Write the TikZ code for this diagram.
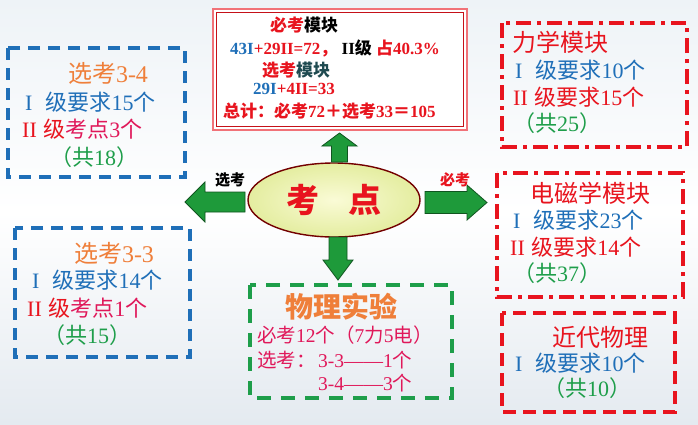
\documentclass[tikz,border=0pt]{standalone}
\usepackage{fontspec}
\setmainfont{Liberation Serif}
\newfontfamily\cjk{Noto Sans CJK SC}
\usetikzlibrary{shapes.geometric}
\definecolor{kblue}{HTML}{1F6FB8}
\definecolor{kred}{HTML}{E8141E}
\definecolor{kpink}{HTML}{E0185A}
\definecolor{kgreen}{HTML}{1E9E4A}
\definecolor{korange}{HTML}{EF7F3A}
\definecolor{kteal}{HTML}{1E4A50}
\definecolor{arrowgreen}{HTML}{1E9A3A}
\definecolor{bgtop}{HTML}{EEF3F7}
\definecolor{bgbot}{HTML}{E4EAF0}
\definecolor{ellin}{HTML}{FAFBD6}
\definecolor{ellout}{HTML}{E4EDA0}
\def\zh#1{{\cjk #1}}
\def\fs#1{\fontsize{#1}{#1}\selectfont}
% tail (#1), angle #2, length #3, shaft half #4, head half #5, head length #6
\def\bigarrow(#1)[#2](#3,#4,#5,#6){\draw[garrow,shift={(#1)},rotate=#2] (0,-#4) -- ({#3-#6},-#4) -- ({#3-#6},-#5) -- (#3,0) -- ({#3-#6},#5) -- ({#3-#6},#4) -- (0,#4) -- cycle;}

\begin{document}
\begin{tikzpicture}[x=1pt,y=-1pt,
	bluebox/.style={draw=kblue,line width=3.2pt,dash pattern=on 12pt off 8pt},
	redbox/.style={draw=kred,line width=3.4pt,dash pattern=on 15pt off 6pt on 4pt off 6pt},
	reddash/.style={draw=kred,line width=3.4pt,dash pattern=on 13pt off 7pt},
	greenbox/.style={draw=kgreen,line width=3.4pt,dash pattern=on 14pt off 10pt},
	txt/.style={anchor=west,inner sep=0pt,font=\fs{22}},
	ttl/.style={inner sep=0pt,font=\fs{24}},
	toptxt/.style={anchor=west,inner sep=0pt,font=\bfseries\fs{17}},
	syt/.style={anchor=west,inner sep=0pt,font=\fs{19.5},text=kpink},
	garrow/.style={draw=arrowgreen!55!black,fill=arrowgreen,line width=0.8pt,line join=miter},
	kellipse/.style={ellipse,draw=red!45!black,line width=1.4pt,inner color=ellin,outer color=ellout,minimum width=172pt,minimum height=74pt,inner sep=0pt},
	]
			%%%%% START %%%%%
			
			\useasboundingbox (0,0) rectangle (698,424);
			\shade[top color=bgtop,bottom color=bgbot,middle color=white] (0,0) rectangle (698,424);
			
			% centre
			\node[kellipse,text=kred,font=\bfseries\fs{33}] (kd) at (334,200) {\zh{考}\hspace{0.9em}\zh{点}};
			\coordinate (upTail) at (339.5,162);
			\coordinate (downTail) at (338,237);
			\coordinate (leftTail) at (245,202);
			\coordinate (rightTail) at (425,202.5);
			\bigarrow(upTail)[90](29,8,17.5,13)
			\bigarrow(downTail)[-90](43,9,15,20)
			\bigarrow(leftTail)[180](60,10,20,20)
			\bigarrow(rightTail)[0](62,11,17.5,20)
			\node[inner sep=0pt,font=\bfseries\fs{15}] (xkLbl) at (230,180) {\zh{选考}};
			\node[inner sep=0pt,font=\bfseries\fs{15},text=kred] (bkLbl) at (455,180) {\zh{必考}};
			
			% top box
			\draw[fill=white,draw=kred!60,line width=1.5pt] (213,9) rectangle (467,130);
			\draw[draw=kred!85!black,line width=1pt] (216.5,12.5) rectangle (463.5,126.5);
			\node[inner sep=0pt,font=\bfseries\fs{17}] (top1) at (304,25) {\textcolor{kred}{\zh{必考}}\zh{模块}};
			\node[toptxt] (top2) at (230,48) {\textcolor{kblue}{43I}\textcolor{kred}{+29II=72\zh{，}} II\zh{级} \textcolor{kred}{\zh{占}40.3\%}};
			\node[inner sep=0pt,font=\bfseries\fs{17}] (top3) at (296,70) {\textcolor{kred}{\zh{选考}}\textcolor{kteal}{\zh{模块}}};
			\node[toptxt] (top4) at (253,89) {\textcolor{kblue}{29I}\textcolor{kred}{+4II=33}};
			\node[toptxt,text=kred] (top5) at (223,111) {\zh{总计：必考}72\zh{＋选考}33\zh{＝}105};
			
			% left boxes
			\draw[bluebox] (8,48) rectangle (185,177);
			\node[ttl,text=korange] (x34) at (108,73) {\zh{选考}3-4};
			\node[txt,text=kblue] (x34a) at (25,102) {I\hspace{0.6em}\zh{级要求}15\zh{个}};
			\node[txt] (x34b) at (22,129) {\textcolor{kred}{II\hspace{0.3em}\zh{级}}\textcolor{kpink}{\zh{考点}3\zh{个}}};
			\node[txt,text=kgreen] (x34c) at (50,157) {\zh{（共}18\zh{）}};
			
			\draw[bluebox] (15,228) rectangle (190,357);
			\node[ttl,text=korange] (x33) at (114,253) {\zh{选考}3-3};
			\node[txt,text=kblue] (x33a) at (32,280) {I\hspace{0.6em}\zh{级要求}14\zh{个}};
			\node[txt] (x33b) at (27,308) {\textcolor{kred}{II\hspace{0.3em}\zh{级}}\textcolor{kpink}{\zh{考点}1\zh{个}}};
			\node[txt,text=kgreen] (x33c) at (43,335) {\zh{（共}15\zh{）}};
			
			% right boxes
			\draw[redbox] (502,23) rectangle (687,147);
			\node[ttl,text=kred,anchor=west] (lx) at (512,42) {\zh{力学模块}};
			\node[txt,text=kblue] (lxa) at (515,70) {I\hspace{0.6em}\zh{级要求}10\zh{个}};
			\node[txt,text=kred] (lxb) at (513,97) {II\hspace{0.3em}\zh{级要求}15\zh{个}};
			\node[txt,text=kgreen] (lxc) at (513,123) {\zh{（共}25\zh{）}};
			
			\draw[redbox] (497,173) rectangle (683,297);
			\node[ttl,text=kred] (dc) at (590,193) {\zh{电磁学模块}};
			\node[txt,text=kblue] (dca) at (513,220) {I\hspace{0.6em}\zh{级要求}23\zh{个}};
			\node[txt,text=kred] (dcb) at (510,247) {II\hspace{0.3em}\zh{级要求}14\zh{个}};
			\node[txt,text=kgreen] (dcc) at (513,273) {\zh{（共}37\zh{）}};
			
			\draw[reddash] (502,313) rectangle (675,412);
			\node[ttl,text=kred] (jd) at (600,337) {\zh{近代物理}};
			\node[txt,text=kblue] (jda) at (515,363) {I\hspace{0.6em}\zh{级要求}10\zh{个}};
			\node[txt,text=kgreen] (jdc) at (543,388) {\zh{（共}10\zh{）}};
			
			% bottom box
			\draw[greenbox] (250,285) rectangle (452,398);
			\node[inner sep=0pt,font=\bfseries\fs{28},text=korange] (sy) at (341,307) {\zh{物理实验}};
			\node[syt] (sya) at (257,335) {\zh{必考}12\zh{个（}7\zh{力}5\zh{电）}};
			\node[syt] (syb) at (257,360) {\zh{选考：}};
			\node[syt] (syc) at (318,360) {3-3——1\zh{个}};
			\node[syt] (syd) at (318,383) {3-4——3\zh{个}};
			
			%%%%% END %%%%%
\end{tikzpicture}
\end{document}
